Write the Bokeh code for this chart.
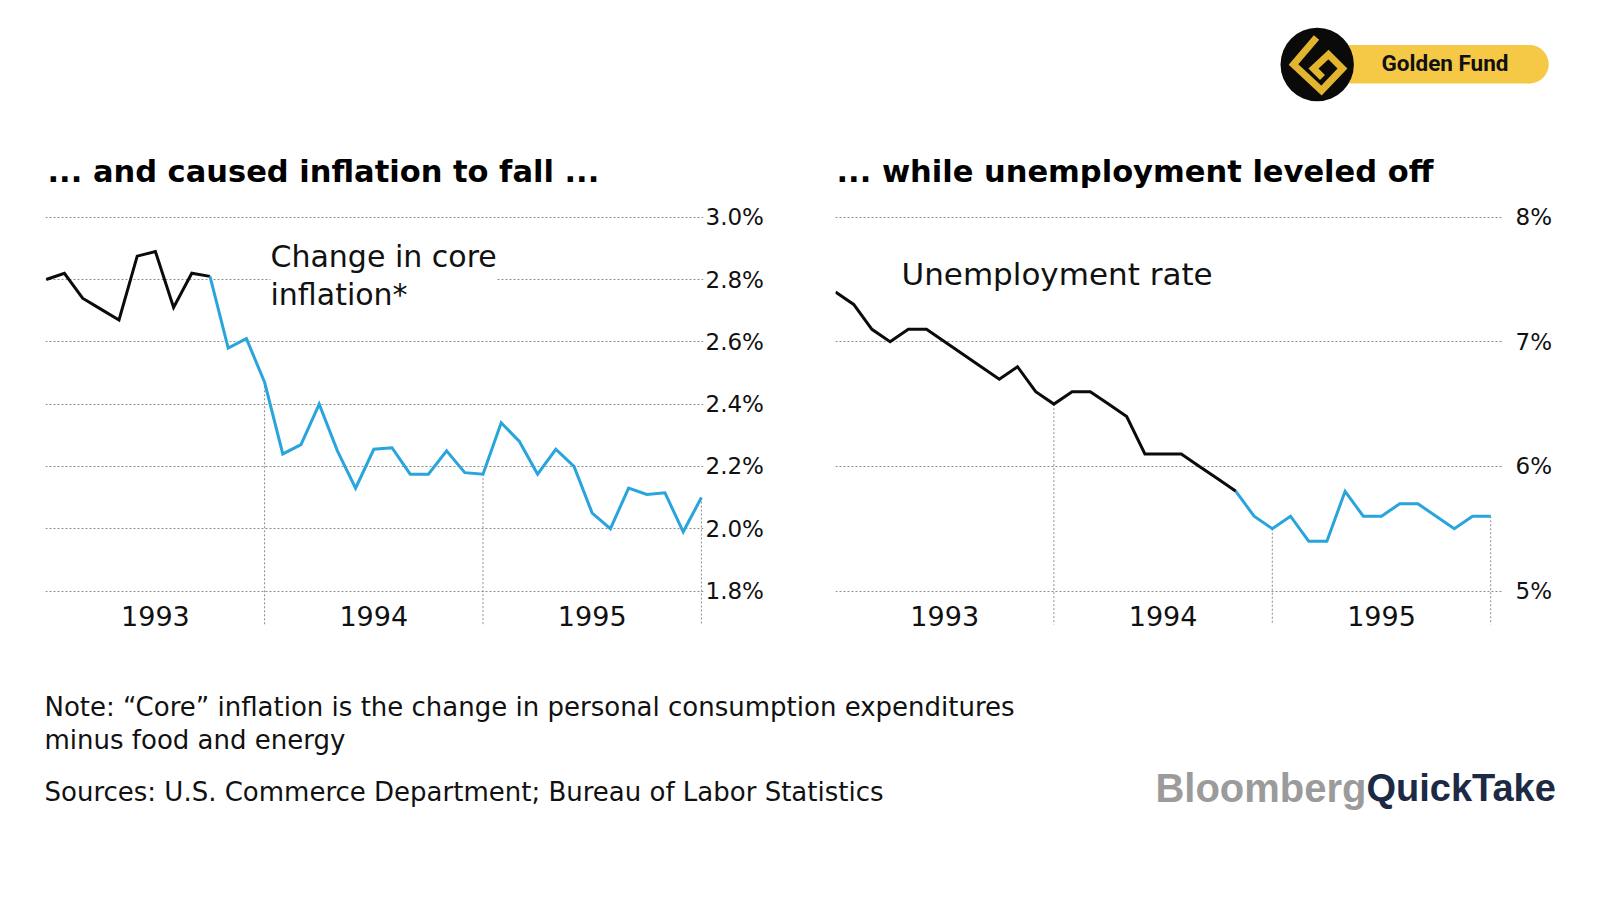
from bokeh.plotting import figure
from bokeh.layouts import column, row, Spacer
from bokeh.models import Range1d, FixedTicker, PrintfTickFormatter, Label
from bokeh.core.properties import value
from bokeh.embed import file_html
from bokeh.resources import INLINE

# ---------------- data ----------------
# monthly observations, Dec 1992 .. Dec 1995
months = ["1992-12"] + [f"{y}-{m:02d}" for y in (1993, 1994, 1995) for m in range(1, 13)]
core_inflation = [2.80, 2.82, 2.74, 2.705, 2.67, 2.875, 2.89, 2.71, 2.82, 2.81,
                  2.58, 2.61, 2.47, 2.24, 2.27, 2.40, 2.25, 2.13, 2.255, 2.26,
                  2.175, 2.175, 2.25, 2.18, 2.175, 2.34, 2.28, 2.175, 2.255, 2.20,
                  2.05, 2.00, 2.13, 2.11, 2.115, 1.99, 2.10]
unemployment = [7.4, 7.3, 7.1, 7.0, 7.1, 7.1, 7.0, 6.9, 6.8, 6.7,
                6.8, 6.6, 6.5, 6.6, 6.6, 6.5, 6.4, 6.1, 6.1, 6.1,
                6.0, 5.9, 5.8, 5.6, 5.5, 5.6, 5.4, 5.4, 5.8, 5.6,
                5.6, 5.7, 5.7, 5.6, 5.5, 5.6, 5.6]
core_split = "1993-09"        # black up to here, blue after
unemp_split = "1994-10"
year_labels = ["1993", "1994", "1995"]
year_label_months = ["1993-06", "1994-06", "1995-06"]
year_end_months = ["1993-12", "1994-12", "1995-12"]
core_ticks = [1.8, 2.0, 2.2, 2.4, 2.6, 2.8, 3.0]
unemp_ticks = [5, 6, 7, 8]

title_left = "... and caused inflation to fall ..."
title_right = "... while unemployment leveled off"
label_left = "Change in core\ninflation*"
label_right = "Unemployment rate"
note_lines = ["Note: \u201cCore\u201d inflation is the change in personal consumption expenditures",
              "minus food and energy"]
sources = "Sources: U.S. Commerce Department; Bureau of Labor Statistics"

# ---------------- styling ----------------
BLUE = "#29a4dc"
BLACK = "#0b0b0b"
GRID = "#8d8d8d"
FONT = "DejaVu Sans"

idx = list(range(len(months)))

# screen geometry (px, page coordinates incl. 8px page margin)
CH_TOP, CH_H = 200, 468
FRAME_TOP, FRAME_BOTTOM = 210, 640
TICK_TOP_PX, TICK_BOT_PX = 216.7, 590.5
PX_PER_MONTH = 18.2


def make_chart(series, split, ticks, fmt, fig_x, fig_w, frame_l, frame_r, first_px,
               standoff, label_text, label_x_px, label_top_px, label_size, label_bg):
    lo, hi = ticks[0], ticks[-1]
    unit = (TICK_BOT_PX - TICK_TOP_PX) / (hi - lo)
    y_end = hi + (TICK_TOP_PX - FRAME_TOP) / unit
    y_start = lo - (FRAME_BOTTOM - TICK_BOT_PX) / unit
    x_start = -(first_px - frame_l) / PX_PER_MONTH
    x_end = x_start + (frame_r - frame_l) / PX_PER_MONTH

    def py(px):
        return hi - (px - TICK_TOP_PX) / unit

    def px_x(px):
        return x_start + (px - frame_l) / PX_PER_MONTH

    p = figure(width=fig_w, height=CH_H, x_range=Range1d(x_start, x_end),
               y_range=Range1d(y_start, y_end), output_backend="svg",
               toolbar_location=None, x_axis_location=None, y_axis_location="right",
               min_border_left=frame_l - fig_x, min_border_right=fig_x + fig_w - frame_r,
               min_border_top=FRAME_TOP - CH_TOP, min_border_bottom=CH_TOP + CH_H - FRAME_BOTTOM,
               outline_line_color=None, background_fill_color="white",
               border_fill_color="white")
    p.xgrid.visible = False
    p.ygrid.grid_line_color = GRID
    p.ygrid.grid_line_dash = "2 2"
    p.ygrid.grid_line_width = 1
    ax = p.yaxis[0]
    ax.ticker = FixedTicker(ticks=ticks)
    ax.formatter = PrintfTickFormatter(format=fmt)
    ax.axis_line_color = None
    ax.major_tick_line_color = None
    ax.minor_tick_line_color = None
    ax.major_tick_in = 0
    ax.major_tick_out = 0
    ax.major_label_standoff = standoff
    ax.major_label_text_font = FONT
    ax.major_label_text_font_size = "23px"
    ax.major_label_text_color = "#111111"

    # year separators
    ends = [months.index(m) for m in year_end_months]
    seg_bottom = py(624)
    p.segment(x0=ends, y0=[series[i] for i in ends], x1=ends, y1=[seg_bottom] * len(ends),
              line_color=GRID, line_dash="2 2", line_width=1)

    s = months.index(split)
    p.line(idx[:s + 1], series[:s + 1], line_color=BLACK, line_width=3, line_join="miter")
    p.line(idx[s:], series[s:], line_color=BLUE, line_width=3, line_join="miter")

    p.text(x=[months.index(m) for m in year_label_months], y=[py(615)] * 3, text=year_labels,
           text_align="center", text_baseline="middle", text_font=value(FONT),
           text_font_size="27px", text_color="#111111")

    lab = Label(x=px_x(label_x_px), y=py(label_top_px), text=label_text,
                text_font=FONT, text_font_size=label_size, text_color="#111111",
                text_baseline="top", text_align="left", text_line_height=1.1,
                background_fill_color=("white" if label_bg else None))
    p.add_layout(lab)
    return p


left = make_chart(core_inflation, core_split, core_ticks, "%.1f%%", 8, 800, 45, 703, 45.7,
                  2, label_left, 270, 238, "30px", True)
right = make_chart(unemployment, unemp_split, unemp_ticks, "%d%%", 808, 784, 835, 1503, 835,
                   12, label_right, 901, 255, "31px", False)

# ---------------- header ----------------
head = figure(width=1584, height=CH_TOP - 8, x_range=Range1d(8, 1592), y_range=Range1d(CH_TOP, 8),
              output_backend="svg", toolbar_location=None, x_axis_location=None,
              y_axis_location=None, min_border=0, outline_line_color=None)
head.grid.visible = False
head.quad(left=[1316], right=[1529], top=[44.5], bottom=[83], fill_color="#f5c946", line_color=None)
head.circle(x=[1529], y=[63.75], radius=19.25, fill_color="#f5c946", line_color=None)
head.circle(x=[1316.7], y=[64], radius=36.7, fill_color="#0a0a0a", line_color=None)
head.line(x=[1316, 1293, 1321, 1342, 1328, 1313, 1322], y=[37, 64, 90, 68, 54, 68, 77],
          line_color="#e3b52f", line_width=7, line_join="miter")
head.text(x=[1444.5], y=[62.5], text=["Golden Fund"], text_align="center", text_baseline="middle",
          text_font=value("Roboto"), text_font_style="bold", text_font_size="22.5px",
          text_color="#111111")
head.text(x=[47, 836], y=[170.5, 170.5], text=[title_left, title_right], text_align="left",
          text_baseline="middle", text_font=value(FONT), text_font_style="bold",
          text_font_size="30.5px", text_color="#000000")

# ---------------- footer ----------------
FT = CH_TOP + CH_H
foot = figure(width=1584, height=892 - FT, x_range=Range1d(8, 1592), y_range=Range1d(892, FT),
              output_backend="svg", toolbar_location=None, x_axis_location=None,
              y_axis_location=None, min_border=0, outline_line_color=None)
foot.grid.visible = False
foot.text(x=[44, 44, 44], y=[706, 739.5, 791.5], text=note_lines + [sources], text_align="left",
          text_baseline="middle", text_font=value(FONT), text_font_size="26px",
          text_color="#111111")
foot.text(x=[1366], y=[787], text=["Bloomberg"], text_align="right", text_baseline="middle",
          text_font=value("Liberation Sans"), text_font_style="bold", text_font_size="40px",
          text_color="#9b9b9b")
foot.text(x=[1366], y=[787], text=["QuickTake"], text_align="left", text_baseline="middle",
          text_font=value("Liberation Sans"), text_font_style="bold", text_font_size="38px",
          text_color="#1d2a45")

content = column(head, row(left, right, spacing=0), foot, spacing=0)
layout = column(Spacer(height=8), row(Spacer(width=8), content, spacing=0), spacing=0)
open("out.html", "w").write(file_html(layout, INLINE))
